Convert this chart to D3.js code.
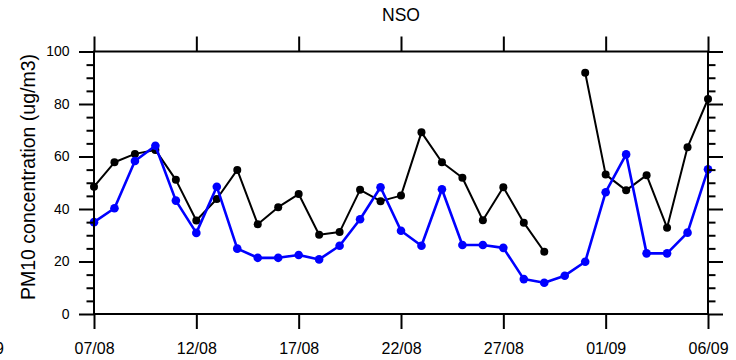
<!DOCTYPE html>
<html>
<head>
    <meta charset="utf-8">
    <style>
        body { margin: 0; background: white; }
        svg { font-family: 'Liberation Sans', Arial, Helvetica, sans-serif; }
        .axis path, .axis line { stroke: #000; stroke-width: 2; }
        .axis text { fill: #000; }
    </style>
</head>
<body>
    <svg width="736" height="360"></svg>

<script src="https://d3js.org/d3.v7.min.js"></script>
<script>
    // days shown on the x axis
    let days = ["2011-08-07", "2011-08-08", "2011-08-09", "2011-08-10", "2011-08-11", "2011-08-12",
        "2011-08-13", "2011-08-14", "2011-08-15", "2011-08-16", "2011-08-17", "2011-08-18",
        "2011-08-19", "2011-08-20", "2011-08-21", "2011-08-22", "2011-08-23", "2011-08-24",
        "2011-08-25", "2011-08-26", "2011-08-27", "2011-08-28", "2011-08-29", "2011-08-30",
        "2011-08-31", "2011-09-01", "2011-09-02", "2011-09-03", "2011-09-04", "2011-09-05",
        "2011-09-06"]

    // black series (gap on 30/08)
    let blackVals = [48.5, 57.8, 61, 62.5, 51.1, 35.6, 43.8, 54.9, 34.2, 40.7, 45.7, 30.2,
        31.2, 47.3, 43.0, 45.1, 69.2, 57.8, 51.9, 35.7, 48.3, 34.8, 23.7, null,
        91.9, 53.1, 47.1, 52.9, 32.9, 63.5, 81.9]

    // blue series
    let blueVals = [35, 40.3, 58.3, 64.1, 43.2, 30.9, 48.5, 24.9, 21.4, 21.4, 22.5, 20.8,
        26.0, 36.1, 48.3, 31.7, 26.0, 47.5, 26.3, 26.3, 25.2, 13.3, 11.9, 14.6,
        19.9, 46.4, 60.8, 23.1, 23.1, 31.0, 55.1]

    let xTicks = ["2011-08-07", "2011-08-12", "2011-08-17", "2011-08-22", "2011-08-27", "2011-09-01", "2011-09-06"]
    let yTicks = [0, 20, 40, 60, 80, 100]
    let yMinor = [5, 10, 15, 25, 30, 35, 45, 50, 55, 65, 70, 75, 85, 90, 95]

    let parse = d3.utcParse("%Y-%m-%d")
    let dates = days.map(parse)

    let plotL = 94, plotR = 708, plotT = 51.5, plotB = 314

    let svg = d3.select("svg")

    let x = d3.scaleUtc()
        .domain([dates[0], dates[dates.length - 1]])
        .range([plotL, plotR])

    let y = d3.scaleLinear()
        .domain([0, 100])
        .range([plotB, plotT])

    // series
    function drawSeries(vals, color, lw, r) {
        let pts = vals.map((v, i) => ({ d: dates[i], v: v }))
        let line = d3.line()
            .defined(p => p.v !== null)
            .x(p => x(p.d))
            .y(p => y(p.v))

        svg.append("path")
            .datum(pts)
            .attr("d", line)
            .style("fill", "none")
            .style("stroke", color)
            .style("stroke-width", lw)
            .style("stroke-linejoin", "round")

        svg.selectAll(null)
            .data(pts.filter(p => p.v !== null))
            .join("circle")
            .attr("cx", p => x(p.d))
            .attr("cy", p => y(p.v))
            .attr("r", r)
            .style("fill", color)
    }

    drawSeries(blackVals, "#000", 2, 4)
    drawSeries(blueVals, "#0000ff", 2.6, 4.3)

    // axes
    let fmt = d3.utcFormat("%d/%m")

    svg.append("g").attr("class", "axis")
        .attr("transform", `translate(0,${plotB})`)
        .call(d3.axisBottom(x).tickValues(xTicks.map(parse)).tickFormat(fmt).tickSize(15).tickSizeOuter(0).tickPadding(13.5))
        .call(g => g.selectAll("text").style("font-size", "16px"))
        .call(g => g.select(".domain").remove())

    svg.append("g").attr("class", "axis")
        .attr("transform", `translate(0,${plotT})`)
        .call(d3.axisTop(x).tickValues(xTicks.map(parse)).tickFormat("").tickSize(15).tickSizeOuter(0))
        .call(g => g.select(".domain").remove())

    svg.append("g").attr("class", "axis")
        .attr("transform", `translate(${plotL},0)`)
        .call(d3.axisLeft(y).tickValues(yTicks).tickSize(15).tickSizeOuter(0).tickPadding(9.5))
        .call(g => g.selectAll("text").style("font-size", "14px"))
        .call(g => g.select(".domain").remove())

    svg.append("g").attr("class", "axis")
        .attr("transform", `translate(${plotL},0)`)
        .call(d3.axisLeft(y).tickValues(yMinor).tickFormat("").tickSize(7.5).tickSizeOuter(0))
        .call(g => g.select(".domain").remove())

    svg.append("g").attr("class", "axis")
        .attr("transform", `translate(${plotR},0)`)
        .call(d3.axisRight(y).tickValues(yTicks).tickFormat("").tickSize(15).tickSizeOuter(0))
        .call(g => g.select(".domain").remove())

    svg.append("g").attr("class", "axis")
        .attr("transform", `translate(${plotR},0)`)
        .call(d3.axisRight(y).tickValues(yMinor).tickFormat("").tickSize(7.5).tickSizeOuter(0))
        .call(g => g.select(".domain").remove())

    // frame
    svg.append("rect")
        .attr("x", plotL)
        .attr("y", plotT)
        .attr("width", plotR - plotL)
        .attr("height", plotB - plotT)
        .style("fill", "none")
        .style("stroke", "#000")
        .style("stroke-width", 2)

    // title
    svg.append("text")
        .attr("x", (plotL + plotR) / 2)
        .attr("y", 21)
        .attr("text-anchor", "middle")
        .style("font-size", "17.5px")
        .text("NSO")

    // y axis label
    svg.append("text")
        .attr("transform", "translate(35,177) rotate(-90)")
        .attr("text-anchor", "middle")
        .style("font-size", "19.5px")
        .text("PM10 concentration (ug/m3)")

    // clipped label fragment at the left edge
    svg.append("text")
        .attr("x", 4)
        .attr("y", 354)
        .attr("text-anchor", "end")
        .style("font-size", "16px")
        .text("9")
</script>
</body>
</html>
